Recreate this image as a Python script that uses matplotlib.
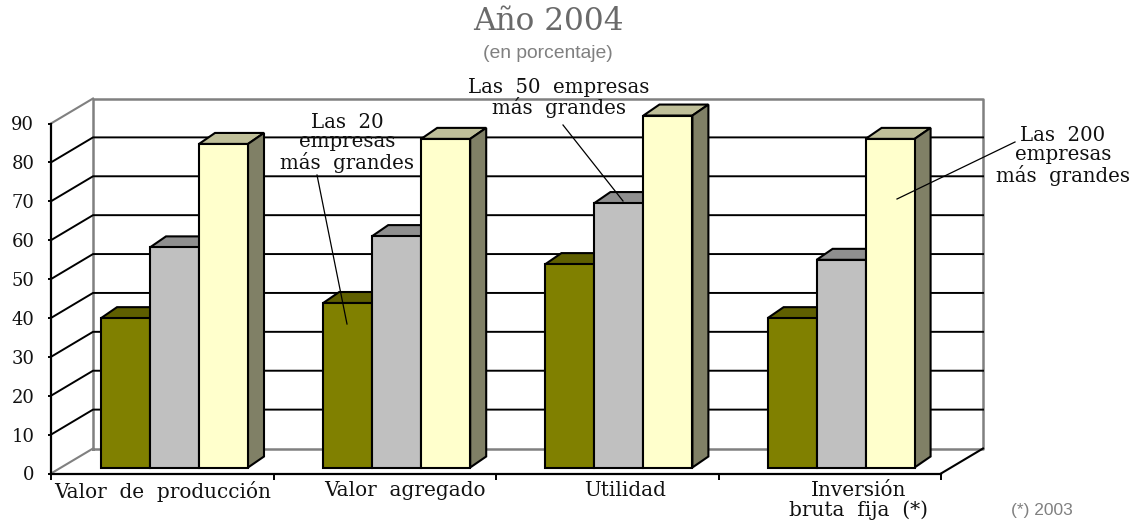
import matplotlib
matplotlib.use("Agg")
import matplotlib.pyplot as plt
from matplotlib.patches import Polygon

# Datos
categorias = ["Valor  de  producción", "Valor  agregado", "Utilidad", "Inversión\nbruta  fija  (*)"]
las_20 = [38.4, 42.3, 52.3, 38.4]
las_50 = [56.6, 59.5, 68.0, 53.4]
las_200 = [83.2, 84.5, 90.5, 84.5]
ticks_y = [0, 10, 20, 30, 40, 50, 60, 70, 80, 90]

W, H = 1135, 522
fig = plt.figure(figsize=(W / 100, H / 100), dpi=100)
# el plano frontal del grafico va de x=51 a x=941 y de y=473 a y=123
ax = fig.add_axes([51 / W, 1 - 473.5 / H, 890 / W, 350 / H])
ax.set_xlim(0, 4)
ax.set_ylim(0, 90)
ax.patch.set_visible(False)

serif = "DejaVu Serif"
sans = "Liberation Sans"
px_x = 4 / 890
px_y = 90 / 350

# paredes: profundidad del piso
dx, dy = 42 * px_x, 25 * px_y
gris = "#808080"
ax.plot([dx, dx, 4 + dx, 4 + dx, dx], [dy, 90 + dy, 90 + dy, dy, dy], color=gris, lw=1.8, clip_on=False, zorder=1)
ax.plot([0, dx], [0, dy], color=gris, lw=1.5, clip_on=False, zorder=1)
ax.plot([0, dx], [90, 90 + dy], color=gris, lw=1.5, clip_on=False, zorder=1)
ax.plot([4, 4 + dx], [0, dy], color="black", lw=1.5, clip_on=False, zorder=1)
for v in ticks_y[1:-1]:
    ax.plot([0, dx, 4 + dx], [v, v + dy, v + dy], color="black", lw=1.4, clip_on=False, zorder=1)

# barras
series = [
    (las_20, "#808000", "#5f5f00", "#5f5f00"),
    (las_50, "#C0C0C0", "#8f8f8f", "#8f8f8f"),
    (las_200, "#FFFFCC", "#BFBF99", "#808066"),
]
base = 6 * px_y
ddx, ddy = 16 * px_x, 11 * px_y
ancho = 49 * px_x
for j, (vals, color, techo, lado) in enumerate(series):
    xs = [i * 222.2 * px_x + 50 * px_x + j * ancho for i in range(4)]
    for x, v in zip(xs, vals):
        top = base + v
        ax.add_patch(Polygon([(x, top), (x + ddx, top + ddy), (x + ancho + ddx, top + ddy), (x + ancho, top)],
                             fc=techo, ec="black", lw=1.5, clip_on=False, zorder=2 + j))
        ax.add_patch(Polygon([(x + ancho, base), (x + ancho + ddx, base + ddy), (x + ancho + ddx, top + ddy), (x + ancho, top)],
                             fc=lado, ec="black", lw=1.5, clip_on=False, zorder=2 + j))
    ax.bar(xs, vals, width=ancho, bottom=base, align="edge", color=color, edgecolor="black", linewidth=1.5,
           clip_on=False, zorder=2.5 + j)

# ejes
for s in ["top", "right"]:
    ax.spines[s].set_visible(False)
for s in ["left", "bottom"]:
    ax.spines[s].set_linewidth(1.6)
    ax.spines[s].set_zorder(6)
ax.set_yticks(ticks_y)
ax.set_yticklabels([str(t) for t in ticks_y], family=serif, fontsize=13, color="#111111")
ax.tick_params(axis="y", length=2, width=1.4, pad=10)
ax.set_xticks([0, 1, 2, 3, 4])
ax.set_xticklabels([])
ax.tick_params(axis="x", length=4, width=1.4)

# etiquetas de categoria, corridas como en el original
corrimiento = [0, 20.5, 18, 28.5]
for i, cat in enumerate(categorias):
    ax.text(i + 0.5 + corrimiento[i] * px_x, -2.0, cat, family=serif, fontsize=14.4, ha="center", va="top",
            linespacing=0.98, color="#111111", clip_on=False)

# titulo
fig.text(548 / W, 1 - 21 / H, "Año 2004", family=serif, fontsize=22.4, color="#6a6a6a", ha="center", va="center")
fig.text(548 / W, 1 - 53 / H, "(en porcentaje)", family=sans, fontsize=13.9, color=gris, ha="center", va="center")
fig.text(1042 / W, 1 - 510 / H, "(*) 2003", family=sans, fontsize=12.5, color=gris, ha="center", va="center")

# rotulos y lineas guia en pixeles de la figura
def rotulo(x, y, s):
    fig.text(x / W, 1 - y / H, s, family=serif, fontsize=14.2, ha="center", va="center", linespacing=1.03,
             color="#111111", zorder=8)

def guia(x0, y0, x1, y1):
    fig.add_artist(plt.Line2D([x0 / W, x1 / W], [1 - y0 / H, 1 - y1 / H], color="black", lw=0.9, zorder=9))

rotulo(347, 143, "Las  20\nempresas\nmás  grandes")
rotulo(559, 98, "Las  50  empresas\nmás  grandes")
rotulo(1063, 156, "Las  200\nempresas\nmás  grandes")
guia(317, 175, 347, 324)
guia(563, 125, 623, 201)
guia(1015, 142, 897, 199)

fig.savefig("out.png", dpi=100)
